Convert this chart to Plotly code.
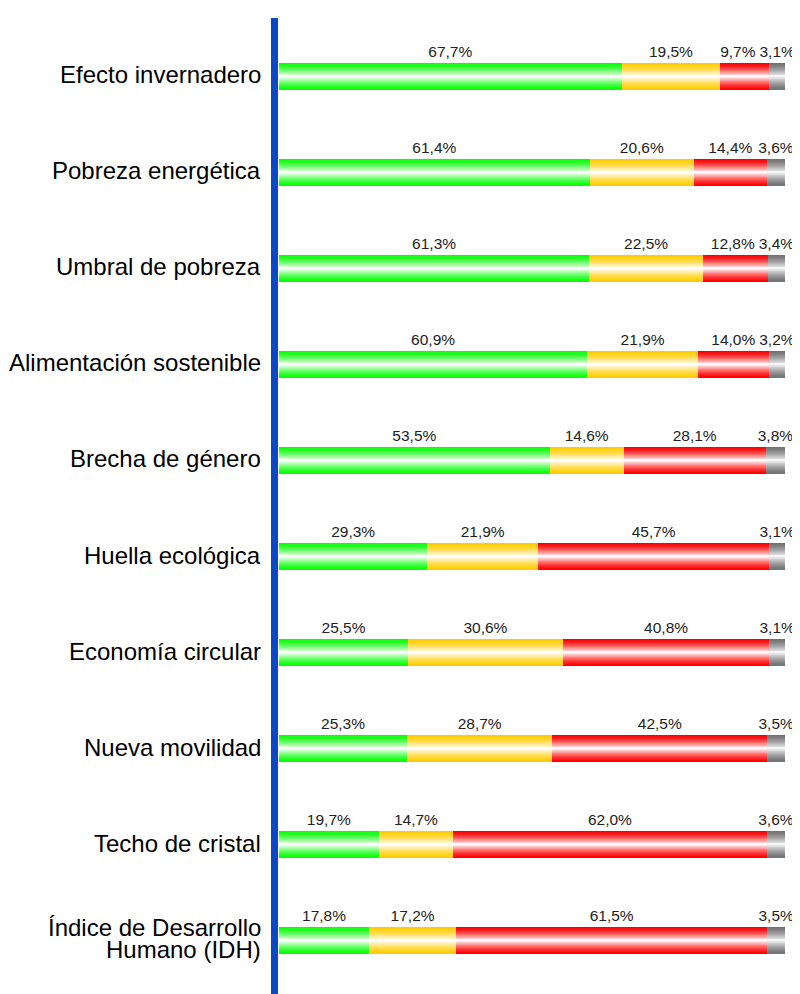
import plotly.graph_objects as go

categories = ["Efecto invernadero", "Pobreza energética", "Umbral de pobreza",
              "Alimentación sostenible", "Brecha de género", "Huella ecológica",
              "Economía circular", "Nueva movilidad", "Techo de cristal",
              "Índice de Desarrollo<br>Humano (IDH)"]
green_vals = [67.7, 61.4, 61.3, 60.9, 53.5, 29.3, 25.5, 25.3, 19.7, 17.8]
yellow_vals = [19.5, 20.6, 22.5, 21.9, 14.6, 21.9, 30.6, 28.7, 14.7, 17.2]
red_vals = [9.7, 14.4, 12.8, 14.0, 28.1, 45.7, 40.8, 42.5, 62.0, 61.5]
gray_vals = [3.1, 3.6, 3.4, 3.2, 3.8, 3.1, 3.1, 3.5, 3.6, 3.5]

series = [green_vals, yellow_vals, red_vals, gray_vals]
base_colors = [(10, 255, 10), (255, 204, 0), (255, 0, 0), (115, 115, 115)]
center_colors = [(255, 255, 255), (255, 255, 255), (255, 255, 255), (245, 245, 245)]

ypos = list(range(len(categories)))
BAR_W = 0.28
N = 14
FONT = "Liberation Sans, Arial, sans-serif"
LABEL_SIZE = 15.5
PX_PER_UNIT = 506 / 100.0  # x-axis scale (plot width / range), used for label spacing


def fmt(v):
    return ("%.1f" % v).replace(".", ",") + "%"


def text_width_units(s):
    em = sum(0.278 if ch == "," else 0.889 if ch == "%" else 0.556 for ch in s)
    return em * LABEL_SIZE / PX_PER_UNIT


fig = go.Figure()

# bars (vertical gradient via overlaid narrowing bars)
bases = [0.0] * len(categories)
label_pos = []
for vals, c0, c1 in zip(series, base_colors, center_colors):
    for i in range(N):
        t = (i / (N - 1)) ** 1.4
        col = tuple(round(a + (b - a) * t) for a, b in zip(c0, c1))
        fig.add_trace(go.Bar(
            x=vals, y=ypos, base=list(bases), orientation="h",
            width=BAR_W * (1 - i / N),
            marker=dict(color="rgb(%d,%d,%d)" % col, line=dict(width=0)),
            showlegend=False, hoverinfo="skip"))
    label_pos.append([b + v / 2 for b, v in zip(bases, vals)])
    bases = [b + v for b, v in zip(bases, vals)]

# resolve label collisions per row (shift left from the right end)
gap = 4 / PX_PER_UNIT
for r in ypos:
    for s in range(len(series) - 2, -1, -1):
        w_this = text_width_units(fmt(series[s][r]))
        w_next = text_width_units(fmt(series[s + 1][r]))
        right = label_pos[s][r] + w_this / 2
        left_next = label_pos[s + 1][r] - w_next / 2
        if right > left_next - gap:
            label_pos[s][r] -= right - (left_next - gap)

for s, vals in enumerate(series):
    fig.add_trace(go.Scatter(
        x=label_pos[s], y=[p - 0.245 for p in ypos],
        mode="text", text=[fmt(v) for v in vals],
        textposition="middle center", cliponaxis=False,
        textfont=dict(family=FONT, size=LABEL_SIZE, color="#222222"),
        showlegend=False, hoverinfo="skip"))

# category labels
for p, cat in zip(ypos, categories):
    lines = cat.split("<br>")
    shifts = [1.5] if len(lines) == 1 else [13.5, -9]
    for ln, ys in zip(lines, shifts):
        fig.add_annotation(x=0, xref="paper", y=p, yref="y", text=ln, showarrow=False,
                           xanchor="right", yanchor="middle", xshift=-8, yshift=ys,
                           font=dict(family=FONT, size=24, color="black"))

# vertical blue axis line
fig.add_shape(type="rect", xref="paper", yref="paper", x0=0, x1=7 / 514, y0=0, y1=1,
              fillcolor="#0b48c4", line=dict(width=0), layer="above")

fig.update_layout(
    width=792, height=986,
    margin=dict(l=263, r=15, t=10, b=0),
    paper_bgcolor="white", plot_bgcolor="white",
    barmode="overlay", bargap=0,
    xaxis=dict(range=[-1.58, 100], visible=False, showgrid=False, zeroline=False),
    yaxis=dict(range=[9.557, -0.609], visible=False, showgrid=False, zeroline=False),
)

fig.write_html("out.html")
